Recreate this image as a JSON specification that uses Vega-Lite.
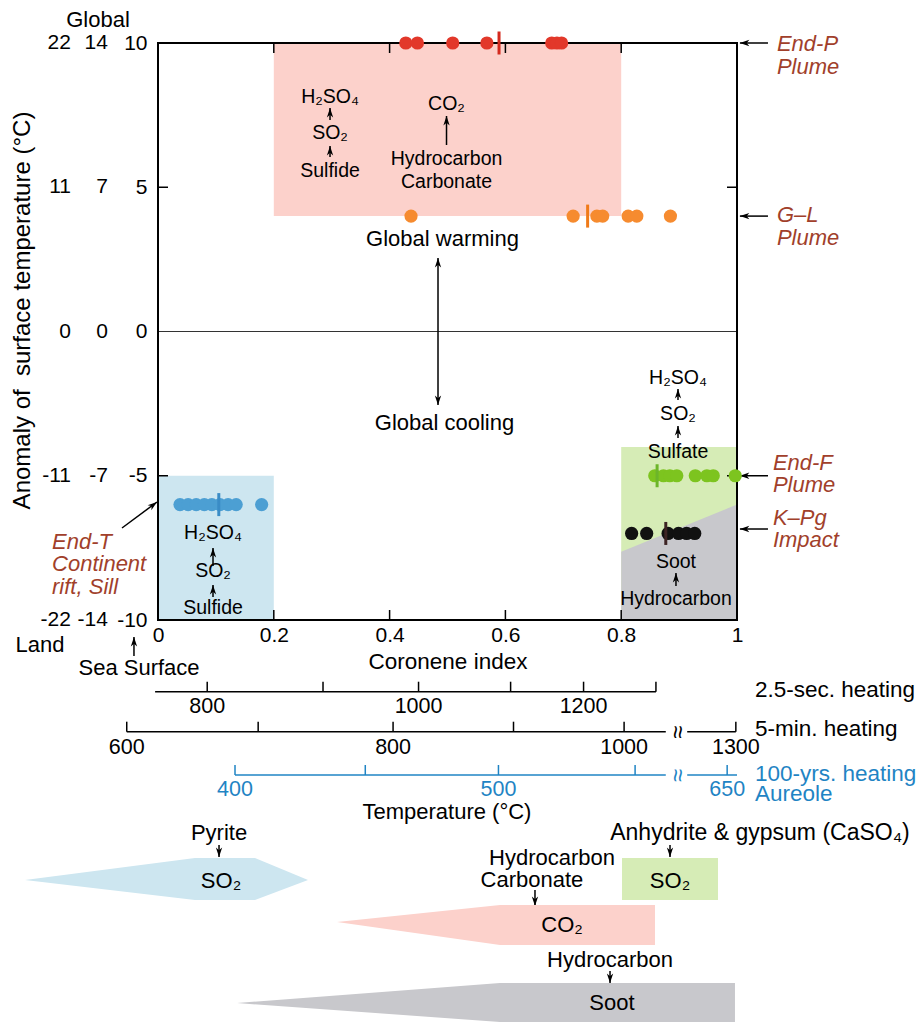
{
  "$schema": "https://vega.github.io/schema/vega-lite/v6.json",
  "width": 579,
  "height": 577,
  "autosize": {"type": "none"},
  "padding": {"left": 158, "top": 43, "right": 181, "bottom": 403},
  "background": "white",
  "config": {
    "view": {"stroke": null},
    "font": "Liberation Sans",
    "text": {"font": "Liberation Sans", "fontSize": 19, "color": "black"},
    "axis": {
      "labelFont": "Liberation Sans", "titleFont": "Liberation Sans",
      "labelFontSize": 21, "titleFontSize": 22.5, "titleFontWeight": "normal",
      "labelColor": "black", "titleColor": "black",
      "domain": false, "ticks": false, "grid": false,
      "labelFlush": false, "labelOverlap": false
    }
  },
  "resolve": {"scale": {"color": "independent"}},
  "datasets": {
    "samples": [
      {"event": "End-P", "ci": 0.428, "anomaly": 10}, {"event": "End-P", "ci": 0.448, "anomaly": 10},
      {"event": "End-P", "ci": 0.509, "anomaly": 10}, {"event": "End-P", "ci": 0.568, "anomaly": 10},
      {"event": "End-P", "ci": 0.68, "anomaly": 10}, {"event": "End-P", "ci": 0.689, "anomaly": 10},
      {"event": "End-P", "ci": 0.697, "anomaly": 10},
      {"event": "G-L", "ci": 0.437, "anomaly": 4}, {"event": "G-L", "ci": 0.717, "anomaly": 4},
      {"event": "G-L", "ci": 0.758, "anomaly": 4}, {"event": "G-L", "ci": 0.768, "anomaly": 4},
      {"event": "G-L", "ci": 0.812, "anomaly": 4}, {"event": "G-L", "ci": 0.827, "anomaly": 4},
      {"event": "G-L", "ci": 0.885, "anomaly": 4},
      {"event": "End-F", "ci": 0.858, "anomaly": -5}, {"event": "End-F", "ci": 0.873, "anomaly": -5},
      {"event": "End-F", "ci": 0.884, "anomaly": -5}, {"event": "End-F", "ci": 0.896, "anomaly": -5},
      {"event": "End-F", "ci": 0.928, "anomaly": -5}, {"event": "End-F", "ci": 0.948, "anomaly": -5},
      {"event": "End-F", "ci": 0.959, "anomaly": -5}, {"event": "End-F", "ci": 0.997, "anomaly": -5},
      {"event": "K-Pg", "ci": 0.818, "anomaly": -7}, {"event": "K-Pg", "ci": 0.844, "anomaly": -7},
      {"event": "K-Pg", "ci": 0.881, "anomaly": -7}, {"event": "K-Pg", "ci": 0.899, "anomaly": -7},
      {"event": "K-Pg", "ci": 0.913, "anomaly": -7}, {"event": "K-Pg", "ci": 0.927, "anomaly": -7},
      {"event": "End-T", "ci": 0.038, "anomaly": -6}, {"event": "End-T", "ci": 0.052, "anomaly": -6},
      {"event": "End-T", "ci": 0.066, "anomaly": -6}, {"event": "End-T", "ci": 0.08, "anomaly": -6},
      {"event": "End-T", "ci": 0.093, "anomaly": -6}, {"event": "End-T", "ci": 0.107, "anomaly": -6},
      {"event": "End-T", "ci": 0.121, "anomaly": -6}, {"event": "End-T", "ci": 0.135, "anomaly": -6},
      {"event": "End-T", "ci": 0.179, "anomaly": -6}
    ],
    "medians": [
      {"event": "End-P", "ci": 0.589, "anomaly": 10},
      {"event": "G-L", "ci": 0.742, "anomaly": 4},
      {"event": "End-F", "ci": 0.862, "anomaly": -5},
      {"event": "K-Pg", "ci": 0.877, "anomaly": -7},
      {"event": "End-T", "ci": 0.105, "anomaly": -6}
    ],
    "arrows": [
      {"x0": 0.2971, "y0": 7.331, "x1": 0.2971, "y1": 7.747, "angle": 0},
      {"x0": 0.2971, "y0": 6.049, "x1": 0.2971, "y1": 6.43, "angle": 0},
      {"x0": 0.4983, "y0": 6.465, "x1": 0.4983, "y1": 7.47, "angle": 0},
      {"x0": 0.4836, "y0": 0, "x1": 0.4836, "y1": 2.548, "angle": 0},
      {"x0": 0.4836, "y0": 0, "x1": 0.4836, "y1": -2.548, "angle": 180},
      {"x0": 0.8981, "y0": -2.374, "x1": 0.8981, "y1": -1.993, "angle": 0},
      {"x0": 0.8981, "y0": -3.692, "x1": 0.8981, "y1": -3.276, "angle": 0},
      {"x0": 0.8946, "y0": -8.822, "x1": 0.8946, "y1": -8.371, "angle": 0},
      {"x0": 0.095, "y0": -8.128, "x1": 0.095, "y1": -7.504, "angle": 0},
      {"x0": 0.095, "y0": -9.203, "x1": 0.095, "y1": -8.787, "angle": 0},
      {"x0": 1.0535, "y0": 10, "x1": 1.005, "y1": 10, "angle": 270},
      {"x0": 1.0535, "y0": 4, "x1": 1.005, "y1": 4, "angle": 270},
      {"x0": 1.0535, "y0": -5, "x1": 1.005, "y1": -5, "angle": 270},
      {"x0": 1.0535, "y0": -6.846, "x1": 1.005, "y1": -6.846, "angle": 270},
      {"x0": -0.0622, "y0": -6.811, "x1": -0.0017, "y1": -5.91, "angle": 53},
      {"x0": -0.0415, "y0": -11.248, "x1": -0.0415, "y1": -10.589, "angle": 0},
      {"x0": 0.1054, "y0": -17.799, "x1": 0.1054, "y1": -18.215, "angle": 180},
      {"x0": 0.8843, "y0": -17.799, "x1": 0.8843, "y1": -18.215, "angle": 180},
      {"x0": 0.6511, "y0": -19.359, "x1": 0.6511, "y1": -19.913, "angle": 180},
      {"x0": 0.7807, "y0": -22.166, "x1": 0.7807, "y1": -22.582, "angle": 180}
    ],
    "notes": [
      {"ci": 0.2971, "anomaly": 8.128, "text": "H₂SO₄"},
      {"ci": 0.2971, "anomaly": 6.88, "text": "SO₂"},
      {"ci": 0.2971, "anomaly": 5.563, "text": "Sulfide"},
      {"ci": 0.4983, "anomaly": 7.886, "text": "CO₂"},
      {"ci": 0.4983, "anomaly": 5.979, "text": "Hydrocarbon\nCarbonate"},
      {"ci": 0.8981, "anomaly": -1.612, "text": "H₂SO₄"},
      {"ci": 0.8981, "anomaly": -2.86, "text": "SO₂"},
      {"ci": 0.8981, "anomaly": -4.177, "text": "Sulfate"},
      {"ci": 0.8946, "anomaly": -7.99, "text": "Soot"},
      {"ci": 0.8946, "anomaly": -9.272, "text": "Hydrocarbon"},
      {"ci": 0.095, "anomaly": -6.984, "text": "H₂SO₄"},
      {"ci": 0.095, "anomaly": -8.302, "text": "SO₂"},
      {"ci": 0.095, "anomaly": -9.584, "text": "Sulfide"}
    ],
    "sources": [
      {"ci": 0.1054, "anomaly": -17.383, "text": "Pyrite"},
      {"ci": 0.6805, "anomaly": -18.249, "text": "Hydrocarbon"},
      {"ci": 0.6459, "anomaly": -19.012, "text": "Carbonate"},
      {"ci": 0.7807, "anomaly": -21.785, "text": "Hydrocarbon"}
    ],
    "products": [
      {"ci": 0.1088, "anomaly": -19.047, "text": "SO₂"},
      {"ci": 0.8843, "anomaly": -19.047, "text": "SO₂"},
      {"ci": 0.6978, "anomaly": -20.572, "text": "CO₂"},
      {"ci": 0.7841, "anomaly": -23.276, "text": "Soot"}
    ],
    "headings": [
      {"ci": 0.4914, "anomaly": 3.206, "text": "Global warming"},
      {"ci": 0.4948, "anomaly": -3.172, "text": "Global cooling"},
      {"ci": -0.1036, "anomaly": 10.797, "text": "Global"},
      {"ci": -0.2038, "anomaly": -10.866, "text": "Land"},
      {"ci": -0.0328, "anomaly": -11.663, "text": "Sea Surface"},
      {"ci": 0.499, "anomaly": -16.655, "text": "Temperature (°C)"}
    ],
    "events": [
      {"ci": 1.069, "anomaly": 9.965, "text": "End-P\nPlume"},
      {"ci": 1.069, "anomaly": 4.038, "text": "G–L\nPlume"},
      {"ci": 1.062, "anomaly": -4.558, "text": "End-F\nPlume"},
      {"ci": 1.062, "anomaly": -6.464, "text": "K–Pg\nImpact"},
      {"ci": -0.183, "anomaly": -7.296, "text": "End-T\nContinent\nrift, Sill"}
    ],
    "scales": [
      {"anomaly": 10, "land": "22", "global": "14"},
      {"anomaly": 5, "land": "11", "global": "7"},
      {"anomaly": 0, "land": "0", "global": "0"},
      {"anomaly": -5, "land": "-11", "global": "-7"},
      {"anomaly": -10, "land": "-22", "global": "-14"}
    ],
    "t25": [
      {"temp": 800, "ci": 0.085, "labeled": true}, {"temp": 900, "ci": 0.285, "labeled": false},
      {"temp": 1000, "ci": 0.45, "labeled": true}, {"temp": 1100, "ci": 0.609, "labeled": false},
      {"temp": 1200, "ci": 0.735, "labeled": true}, {"temp": 1300, "ci": 0.86, "labeled": false}
    ],
    "t5": [
      {"temp": 600, "ci": -0.054, "labeled": true}, {"temp": 700, "ci": 0.173, "labeled": false},
      {"temp": 800, "ci": 0.406, "labeled": true}, {"temp": 900, "ci": 0.614, "labeled": false},
      {"temp": 1000, "ci": 0.805, "labeled": true}, {"temp": 1300, "ci": 0.998, "labeled": true}
    ],
    "t100": [
      {"temp": 400, "ci": 0.133, "labeled": true}, {"temp": 450, "ci": 0.358, "labeled": false},
      {"temp": 500, "ci": 0.588, "labeled": true}, {"temp": 550, "ci": 0.824, "labeled": false},
      {"temp": 650, "ci": 0.983, "labeled": true}
    ]
  },
  "layer": [
    {
      "data": {"values": [
        {"zone": "warming", "x0": 0.2, "x1": 0.8, "top": 10, "bottom": 4},
        {"zone": "rift", "x0": 0, "x1": 0.2, "top": -5, "bottom": -10},
        {"zone": "sulfate", "x0": 0.8, "x1": 1, "top": -4, "bottom": -10}
      ]},
      "mark": {"type": "rect"},
      "encoding": {
        "x": {"field": "x0", "type": "quantitative",
          "scale": {"domain": [0, 1], "nice": false, "zero": false},
          "axis": {"values": [0, 0.2, 0.4, 0.6, 0.8, 1], "labelExpr": "toString(datum.value)",
            "labelPadding": 4, "title": "Coronene index", "titleY": 41, "titleBaseline": "middle"}},
        "x2": {"field": "x1"},
        "y": {"field": "top", "type": "quantitative",
          "scale": {"domain": [-10, 10], "nice": false, "zero": false},
          "axis": {"values": [-10, -5, 0, 5, 10], "labelExpr": "toString(datum.value)",
            "labelPadding": 11, "title": "Anomaly of\u00a0 surface temperature (°C)", "titleFontSize": 24,
            "titleX": -136, "titleY": 267, "titleAngle": -90, "titleAlign": "center", "titleBaseline": "middle"}},
        "y2": {"field": "bottom"},
        "color": {"field": "zone", "type": "nominal", "legend": null,
          "scale": {"domain": ["warming", "rift", "sulfate"], "range": ["#fcd1cb", "#cde6f0", "#d6ecb6"]}}
      }
    },
    {
      "data": {"values": [{"ci": 0.8, "upper": -7.63, "lower": -10}, {"ci": 1, "upper": -6.0, "lower": -10}]},
      "mark": {"type": "area", "color": "#c8c8cc", "opacity": 1},
      "encoding": {
        "x": {"field": "ci", "type": "quantitative"},
        "y": {"field": "upper", "type": "quantitative"},
        "y2": {"field": "lower"}
      }
    },
    {
      "data": {"values": [{}]},
      "mark": {"type": "rule", "color": "#333333", "strokeWidth": 1},
      "encoding": {"x": {"datum": 0}, "x2": {"datum": 1}, "y": {"datum": 0}}
    },
    {
      "data": {"values": [
        {"x0": 0, "x1": 1, "y0": 10, "y1": 10}, {"x0": 0, "x1": 1, "y0": -10, "y1": -10},
        {"x0": 0, "x1": 0, "y0": -10, "y1": 10}, {"x0": 1, "x1": 1, "y0": -10, "y1": 10}
      ]},
      "mark": {"type": "rule", "color": "black", "strokeWidth": 2, "strokeCap": "square"},
      "encoding": {
        "x": {"field": "x0", "type": "quantitative"}, "x2": {"field": "x1"},
        "y": {"field": "y0", "type": "quantitative"}, "y2": {"field": "y1"}
      }
    },
    {
      "data": {"values": [{"v": 0.2}, {"v": 0.4}, {"v": 0.6}, {"v": 0.8}]},
      "mark": {"type": "rule", "color": "black", "strokeWidth": 1.5},
      "encoding": {"x": {"field": "v", "type": "quantitative"}, "y": {"datum": 10}, "y2": {"datum": 9.653}}
    },
    {
      "data": {"values": [{"v": 0.2}, {"v": 0.4}, {"v": 0.6}, {"v": 0.8}]},
      "mark": {"type": "rule", "color": "black", "strokeWidth": 1.5},
      "encoding": {"x": {"field": "v", "type": "quantitative"}, "y": {"datum": -10}, "y2": {"datum": -9.653}}
    },
    {
      "data": {"values": [{"v": 5}, {"v": -5}]},
      "mark": {"type": "rule", "color": "black", "strokeWidth": 1.5},
      "encoding": {"y": {"field": "v", "type": "quantitative"}, "x": {"datum": 0}, "x2": {"datum": 0.0173}}
    },
    {
      "data": {"values": [{"v": 5}, {"v": -5}]},
      "mark": {"type": "rule", "color": "black", "strokeWidth": 1.5},
      "encoding": {"y": {"field": "v", "type": "quantitative"}, "x": {"datum": 1}, "x2": {"datum": 0.9827}}
    },
    {
      "data": {"name": "notes"},
      "mark": {"type": "text", "fontSize": 19.5, "align": "center", "baseline": "middle", "lineBreak": "\n", "lineHeight": 23},
      "encoding": {
        "x": {"field": "ci", "type": "quantitative"}, "y": {"field": "anomaly", "type": "quantitative"},
        "text": {"field": "text"}
      }
    },
    {
      "data": {"name": "headings"},
      "mark": {"type": "text", "fontSize": 22, "align": "center", "baseline": "middle"},
      "encoding": {
        "x": {"field": "ci", "type": "quantitative"}, "y": {"field": "anomaly", "type": "quantitative"},
        "text": {"field": "text"}
      }
    },
    {
      "data": {"name": "events"},
      "mark": {"type": "text", "fontSize": 22, "fontStyle": "italic", "align": "left", "baseline": "middle",
        "color": "#a13f2b", "lineBreak": "\n", "lineHeight": 22.5},
      "encoding": {
        "x": {"field": "ci", "type": "quantitative"}, "y": {"field": "anomaly", "type": "quantitative"},
        "text": {"field": "text"}
      }
    },
    {
      "data": {"name": "scales"},
      "mark": {"type": "text", "fontSize": 21, "align": "right", "baseline": "middle"},
      "encoding": {"x": {"datum": -0.1503}, "y": {"field": "anomaly", "type": "quantitative"}, "text": {"field": "land"}}
    },
    {
      "data": {"name": "scales"},
      "mark": {"type": "text", "fontSize": 21, "align": "right", "baseline": "middle"},
      "encoding": {"x": {"datum": -0.0864}, "y": {"field": "anomaly", "type": "quantitative"}, "text": {"field": "global"}}
    },
    {
      "data": {"name": "arrows"},
      "mark": {"type": "rule", "color": "black", "strokeWidth": 1.5},
      "encoding": {
        "x": {"field": "x0", "type": "quantitative"}, "x2": {"field": "x1"},
        "y": {"field": "y0", "type": "quantitative"}, "y2": {"field": "y1"}
      }
    },
    {
      "data": {"name": "arrows"},
      "mark": {"type": "point", "shape": "M0,0L0.6,1.8L0,1.3L-0.6,1.8Z", "filled": true, "color": "black", "opacity": 1, "size": 110, "strokeWidth": 0},
      "encoding": {
        "x": {"field": "x1", "type": "quantitative"}, "y": {"field": "y1", "type": "quantitative"},
        "angle": {"field": "angle", "type": "quantitative", "scale": null}
      }
    },
    {
      "data": {"name": "samples"},
      "mark": {"type": "point", "shape": "circle", "filled": true, "opacity": 1, "size": 175},
      "encoding": {
        "x": {"field": "ci", "type": "quantitative"}, "y": {"field": "anomaly", "type": "quantitative"},
        "color": {"field": "event", "type": "nominal", "legend": null,
          "scale": {"domain": ["End-P", "G-L", "End-F", "K-Pg", "End-T"], "range": ["#e2382a", "#f68b2f", "#7dc41f", "#111111", "#4c9fd3"]}}
      }
    },
    {
      "data": {"name": "medians"},
      "mark": {"type": "point", "shape": "M0,-1L0,1", "filled": false, "opacity": 1, "size": 529, "strokeWidth": 3},
      "encoding": {
        "x": {"field": "ci", "type": "quantitative"}, "y": {"field": "anomaly", "type": "quantitative"},
        "color": {"field": "event", "type": "nominal", "legend": null,
          "scale": {"domain": ["End-P", "G-L", "End-F", "K-Pg", "End-T"], "range": ["#d42a1e", "#f07a18", "#6cb52a", "#3d2424", "#3a8cc6"]}}
      }
    },
    {
      "data": {"values": [{"from": -0.005, "to": 0.86}]},
      "mark": {"type": "rule", "color": "black", "strokeWidth": 1.5},
      "encoding": {"x": {"field": "from", "type": "quantitative"}, "x2": {"field": "to"}, "y": {"datum": -12.485}}
    },
    {
      "data": {"name": "t25"},
      "mark": {"type": "rule", "color": "black", "strokeWidth": 1.5},
      "encoding": {"x": {"field": "ci", "type": "quantitative"}, "y": {"datum": -12.485}, "y2": {"datum": -12.139}}
    },
    {
      "data": {"name": "t25"},
      "transform": [{"filter": "datum.labeled"}],
      "mark": {"type": "text", "fontSize": 21.5, "align": "center", "baseline": "middle"},
      "encoding": {"x": {"field": "ci", "type": "quantitative"}, "y": {"datum": -13.005}, "text": {"field": "temp", "type": "quantitative", "format": "d"}}
    },
    {
      "data": {"values": [{"from": -0.054, "to": 0.877}, {"from": 0.914, "to": 0.998}]},
      "mark": {"type": "rule", "color": "black", "strokeWidth": 1.5},
      "encoding": {"x": {"field": "from", "type": "quantitative"}, "x2": {"field": "to"}, "y": {"datum": -13.872}}
    },
    {
      "data": {"name": "t5"},
      "mark": {"type": "rule", "color": "black", "strokeWidth": 1.5},
      "encoding": {"x": {"field": "ci", "type": "quantitative"}, "y": {"datum": -13.872}, "y2": {"datum": -13.525}}
    },
    {
      "data": {"name": "t5"},
      "transform": [{"filter": "datum.labeled"}],
      "mark": {"type": "text", "fontSize": 21.5, "align": "center", "baseline": "middle"},
      "encoding": {"x": {"field": "ci", "type": "quantitative"}, "y": {"datum": -14.447}, "text": {"field": "temp", "type": "quantitative", "format": "d"}}
    },
    {
      "data": {"values": [{"from": 0.133, "to": 0.877}, {"from": 0.914, "to": 1.0}]},
      "mark": {"type": "rule", "color": "#1f84c4", "strokeWidth": 1.5},
      "encoding": {"x": {"field": "from", "type": "quantitative"}, "x2": {"field": "to"}, "y": {"datum": -15.373}}
    },
    {
      "data": {"name": "t100"},
      "mark": {"type": "rule", "color": "#1f84c4", "strokeWidth": 1.5},
      "encoding": {"x": {"field": "ci", "type": "quantitative"}, "y": {"datum": -15.373}, "y2": {"datum": -15.026}}
    },
    {
      "data": {"name": "t100"},
      "transform": [{"filter": "datum.labeled"}],
      "mark": {"type": "text", "fontSize": 21.5, "align": "center", "baseline": "middle", "color": "#1f84c4"},
      "encoding": {"x": {"field": "ci", "type": "quantitative"}, "y": {"datum": -15.893}, "text": {"field": "temp", "type": "quantitative", "format": "d"}}
    },
    {
      "data": {"values": [{"level": -13.872}]},
      "mark": {"type": "text", "text": "≈", "angle": 90, "fontSize": 24, "align": "center", "baseline": "middle", "color": "black"},
      "encoding": {"x": {"datum": 0.8964}, "y": {"field": "level", "type": "quantitative"}}
    },
    {
      "data": {"values": [{"level": -15.373}]},
      "mark": {"type": "text", "text": "≈", "angle": 90, "fontSize": 24, "align": "center", "baseline": "middle", "color": "#1f84c4"},
      "encoding": {"x": {"datum": 0.8964}, "y": {"field": "level", "type": "quantitative"}}
    },
    {
      "data": {"values": [
        {"ci": 1.031, "anomaly": -12.426, "text": "2.5-sec. heating"},
        {"ci": 1.031, "anomaly": -13.778, "text": "5-min. heating"}
      ]},
      "mark": {"type": "text", "fontSize": 22.5, "align": "left", "baseline": "middle"},
      "encoding": {"x": {"field": "ci", "type": "quantitative"}, "y": {"field": "anomaly", "type": "quantitative"}, "text": {"field": "text"}}
    },
    {
      "data": {"values": [
        {"ci": 1.031, "anomaly": -15.338, "text": "100-yrs. heating\nAureole"}
      ]},
      "mark": {"type": "text", "fontSize": 22.5, "align": "left", "baseline": "middle", "color": "#1f84c4", "lineBreak": "\n", "lineHeight": 20},
      "encoding": {"x": {"field": "ci", "type": "quantitative"}, "y": {"field": "anomaly", "type": "quantitative"}, "text": {"field": "text"}}
    },
    {
      "data": {"values": [
        {"ci": -0.2297, "top": -19.012, "bot": -19.012}, {"ci": 0.0639, "top": -18.249, "bot": -19.705},
        {"ci": 0.1675, "top": -18.249, "bot": -19.705}, {"ci": 0.2591, "top": -19.012, "bot": -19.012}
      ]},
      "mark": {"type": "area", "color": "#cde6f0", "opacity": 1},
      "encoding": {"x": {"field": "ci", "type": "quantitative"}, "y": {"field": "top", "type": "quantitative"}, "y2": {"field": "bot"}}
    },
    {
      "data": {"values": [{"x0": 0.8014, "x1": 0.9672, "top": -18.249, "bot": -19.705}]},
      "mark": {"type": "rect", "color": "#d6ecb6"},
      "encoding": {"x": {"field": "x0", "type": "quantitative"}, "x2": {"field": "x1"}, "y": {"field": "top", "type": "quantitative"}, "y2": {"field": "bot"}}
    },
    {
      "data": {"values": [
        {"ci": 0.3092, "top": -20.468, "bot": -20.468}, {"ci": 0.5907, "top": -19.879, "bot": -21.265},
        {"ci": 0.8584, "top": -19.879, "bot": -21.265}
      ]},
      "mark": {"type": "area", "color": "#fcd1cb", "opacity": 1},
      "encoding": {"x": {"field": "ci", "type": "quantitative"}, "y": {"field": "top", "type": "quantitative"}, "y2": {"field": "bot"}}
    },
    {
      "data": {"values": [
        {"ci": 0.1364, "top": -23.276, "bot": -23.276}, {"ci": 0.5907, "top": -22.582, "bot": -23.934},
        {"ci": 0.9965, "top": -22.582, "bot": -23.934}
      ]},
      "mark": {"type": "area", "color": "#c8c8cc", "opacity": 1},
      "encoding": {"x": {"field": "ci", "type": "quantitative"}, "y": {"field": "top", "type": "quantitative"}, "y2": {"field": "bot"}}
    },
    {
      "data": {"name": "sources"},
      "mark": {"type": "text", "fontSize": 22, "align": "center", "baseline": "middle"},
      "encoding": {"x": {"field": "ci", "type": "quantitative"}, "y": {"field": "anomaly", "type": "quantitative"}, "text": {"field": "text"}}
    },
    {
      "data": {"values": [{"ci": 1.0397, "anomaly": -17.383, "text": "Anhydrite & gypsum (CaSO₄)"}]},
      "mark": {"type": "text", "fontSize": 23, "align": "center", "baseline": "middle"},
      "encoding": {"x": {"field": "ci", "type": "quantitative"}, "y": {"field": "anomaly", "type": "quantitative"}, "text": {"field": "text"}}
    },
    {
      "data": {"name": "products"},
      "mark": {"type": "text", "fontSize": 22, "align": "center", "baseline": "middle"},
      "encoding": {"x": {"field": "ci", "type": "quantitative"}, "y": {"field": "anomaly", "type": "quantitative"}, "text": {"field": "text"}}
    }
  ]
}
